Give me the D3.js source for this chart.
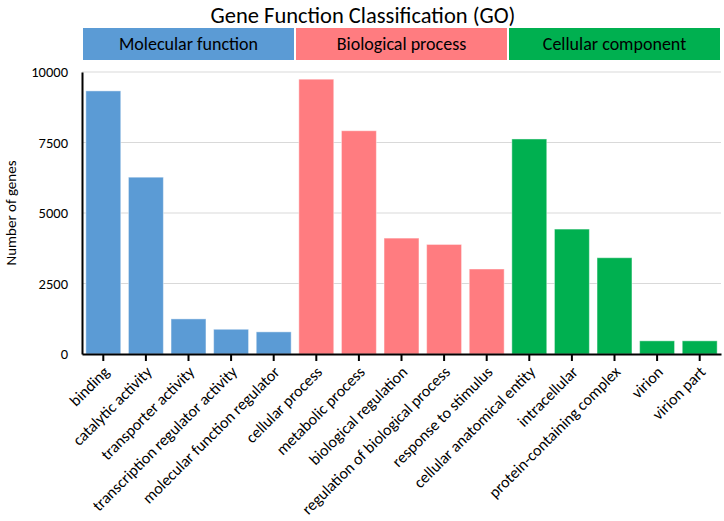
<!DOCTYPE html>
<html>
<head>
<meta charset="utf-8">
<script src="https://cdn.jsdelivr.net/npm/d3@7"></script>
<style>
  body { margin: 0; background: #fff; }
  svg text { font-family: Carlito, Lato, "Open Sans", sans-serif; fill: #000; }
</style>
</head>
<body>
<div id="chart"></div>
<script>
var groups = ["Molecular function", "Biological process", "Cellular component"];
var groupColors = ["#5b9bd5", "#ff7c80", "#00b050"];

var categories = [
    "binding", "catalytic activity", "transporter activity",
    "transcription regulator activity", "molecular function regulator",
    "cellular process", "metabolic process", "biological regulation",
    "regulation of biological process", "response to stimulus",
    "cellular anatomical entity", "intracellular", "protein-containing complex",
    "virion", "virion part"
];
var categoryGroup = [0, 0, 0, 0, 0, 1, 1, 1, 1, 1, 2, 2, 2, 2, 2];
var geneCounts = [9330, 6270, 1245, 877, 785, 9745, 7917, 4110, 3885, 3014, 7625, 4430, 3414, 467, 467];
var yTicks = [0, 2500, 5000, 7500, 10000];

var width = 724, height = 521;
var margin = {top: 72, right: 3, bottom: 167, left: 82};

var svg = d3.select("#chart").append("svg")
    .attr("width", width)
    .attr("height", height);

var x = d3.scaleBand()
    .domain(categories)
    .range([margin.left, width - margin.right])
    .paddingInner(0.18)
    .paddingOuter(0.09);

var y = d3.scaleLinear()
    .domain([0, 10000])
    .range([height - margin.bottom, margin.top]);

// title
svg.append("text")
    .attr("x", 363)
    .attr("y", 23)
    .attr("text-anchor", "middle")
    .style("font-size", "22.5px")
    .text("Gene Function Classification (GO)");

// group header boxes
var step = x.step();
var header = svg.append("g").attr("class", "header");
groups.forEach(function (g, i) {
    var idx = categoryGroup.map(function (c, j) { return c === i ? j : -1; })
        .filter(function (j) { return j >= 0; });
    var x0 = margin.left + step * idx[0] + 1,
        x1 = margin.left + step * (idx[idx.length - 1] + 1) - 1;
    header.append("rect")
        .attr("x", x0)
        .attr("y", 28)
        .attr("width", x1 - x0)
        .attr("height", 32)
        .attr("fill", groupColors[i]);
    header.append("text")
        .attr("x", (x0 + x1) / 2)
        .attr("y", 50)
        .attr("text-anchor", "middle")
        .style("font-size", "18px")
        .text(g);
});

// gridlines
svg.append("g")
    .selectAll("line")
    .data(yTicks.slice(1))
    .enter().append("line")
    .attr("x1", margin.left)
    .attr("x2", width - margin.right)
    .attr("y1", function (d) { return y(d); })
    .attr("y2", function (d) { return y(d); })
    .attr("stroke", "#d9d9d9")
    .attr("stroke-width", 1);

// bars
svg.append("g")
    .selectAll("rect")
    .data(geneCounts)
    .enter().append("rect")
    .attr("x", function (d, i) { return x(categories[i]); })
    .attr("y", function (d) { return y(d); })
    .attr("width", x.bandwidth())
    .attr("height", function (d) { return y(0) - y(d); })
    .attr("fill", function (d, i) { return groupColors[categoryGroup[i]]; })
    .attr("stroke", "rgba(255,255,255,0.45)")
    .attr("stroke-width", 1);

// y axis
var yAxis = svg.append("g")
    .attr("transform", "translate(" + margin.left + ",0)")
    .call(d3.axisLeft(y).tickValues(yTicks).tickFormat(d3.format("d")).tickSize(0).tickPadding(14));
yAxis.select(".domain").attr("stroke", "#000").attr("stroke-width", 2);
yAxis.selectAll("text").style("font-size", "14.5px").style("font-family", "Carlito, Lato, sans-serif");

svg.append("text")
    .attr("transform", "translate(16," + ((margin.top + height - margin.bottom) / 2) + ") rotate(-90)")
    .attr("text-anchor", "middle")
    .style("font-size", "15px")
    .text("Number of genes");

// x axis
var xAxis = svg.append("g")
    .attr("transform", "translate(0," + y(0) + ")")
    .call(d3.axisBottom(x).tickSize(7).tickSizeOuter(0));
xAxis.select(".domain").attr("stroke", "#000").attr("stroke-width", 2);
xAxis.selectAll(".tick line").attr("stroke", "#000").attr("stroke-width", 2);
xAxis.selectAll("text")
    .style("font-size", "16px")
    .style("font-family", "Carlito, Lato, sans-serif")
    .attr("text-anchor", "end")
    .attr("x", 0)
    .attr("y", 0)
    .attr("dx", 0)
    .attr("dy", "0.35em")
    .attr("transform", "translate(3,15) rotate(-45)");
</script>
</body>
</html>
